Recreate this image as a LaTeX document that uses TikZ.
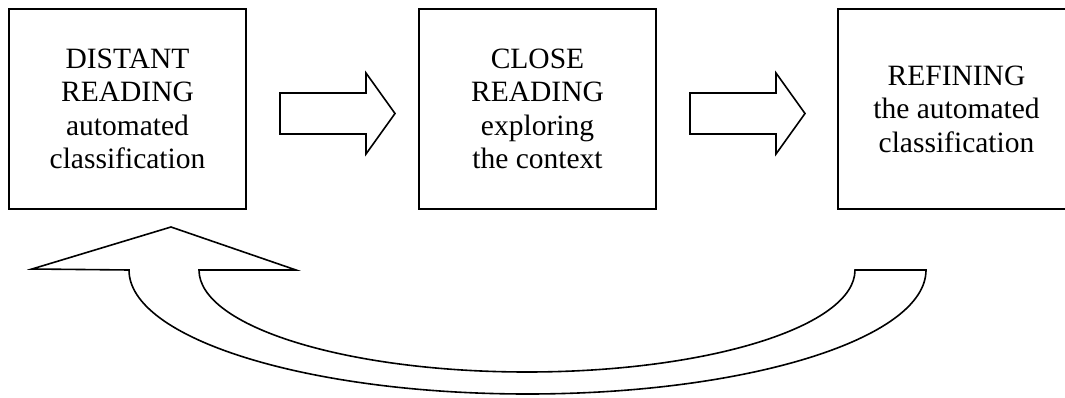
\documentclass[tikz,border=0pt]{standalone}
\usepackage{fontspec}
\setmainfont{Liberation Serif}
\usetikzlibrary{calc}
\begin{document}
\begin{tikzpicture}[x=1pt,y=-1pt,
  box/.style={draw,line width=2pt,minimum width=237pt,minimum height=200pt,inner sep=0pt,
    align=center,font=\fontsize{29.5}{33.5}\selectfont},
  blockarrow/.style={draw,line width=1.6pt,line join=miter},
  pics/fatarrow/.style={code={
    \draw[blockarrow] (0,-20.5) -- (86,-20.5) -- (86,-40.5) -- (115,0)
      -- (86,40.5) -- (86,20.5) -- (0,20.5) -- cycle;}}]
\useasboundingbox (0,0) rectangle (1065,398);
\clip (0,0) rectangle (1065,398);
\node[box] (b1) at (127.5,109) {DISTANT\\READING\\automated\\classification};
\node[box] (b2) at (537.5,109) {CLOSE\\READING\\exploring\\the context};
\node[box] (b3) at (956.5,109) {REFINING\\the automated\\classification};
\pic at ($(b1.east)+(33,4.5)$) {fatarrow};
\pic at ($(b2.east)+(33,4.5)$) {fatarrow};
\coordinate (loopL) at (129,270);
\coordinate (loopR) at (926,270);
\draw[blockarrow] (loopL) -- (32,269) -- (171,227) -- (296,270) -- (199,270)
  arc[start angle=180,end angle=360,x radius=328pt,y radius=102pt]
  -- (loopR)
  arc[start angle=0,end angle=-180,x radius=398.5pt,y radius=124pt]
  -- cycle;
\end{tikzpicture}
\end{document}
